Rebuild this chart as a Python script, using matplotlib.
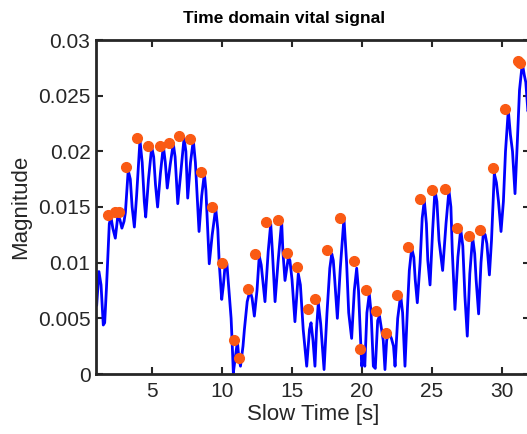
import matplotlib
matplotlib.use("Agg")
import matplotlib.pyplot as plt

# Signal trace (slow time in s, magnitude)
t_sig = [1.05, 1.21, 1.36, 1.52, 1.62, 1.75, 1.95, 2.07, 2.2, 2.38, 2.55, 2.7, 2.85, 3.0, 3.1,
         3.3, 3.45, 3.58, 3.74, 3.9, 4.14, 4.3, 4.45, 4.55, 4.75, 4.98, 5.12, 5.25, 5.4, 5.6,
         5.81, 5.95, 6.09, 6.3, 6.52, 6.65, 6.84, 7.05, 7.29, 7.42, 7.55, 7.75, 7.95, 8.1, 8.36,
         8.55, 8.74, 8.85, 9.09, 9.3, 9.55, 9.7, 9.8, 9.98, 10.1, 10.21, 10.35, 10.5, 10.65, 10.72,
         10.81, 10.95, 11.1, 11.2, 11.32, 11.5, 11.6, 11.8, 12.0, 12.15, 12.31, 12.5, 12.66, 12.8,
         12.95, 13.07, 13.3, 13.48, 13.6, 13.79, 14.0, 14.26, 14.35, 14.5, 14.74, 14.85, 15.0,
         15.21, 15.45, 15.6, 15.8, 16.05, 16.25, 16.36, 16.5, 16.64, 16.75, 16.88, 17.05, 17.2,
         17.29, 17.5, 17.7, 17.84, 17.95, 18.05, 18.24, 18.45, 18.71, 18.9, 19.05, 19.26, 19.45,
         19.62, 19.75, 19.87, 19.98, 20.1, 20.2, 20.35, 20.52, 20.65, 20.81, 20.95, 21.12, 21.25,
         21.4, 21.52, 21.64, 21.76, 21.88, 22.0, 22.1, 22.25, 22.36, 22.55, 22.76, 22.9, 23.07,
         23.25, 23.38, 23.55, 23.7, 23.8, 23.95, 24.15, 24.3, 24.45, 24.6, 24.7, 24.86, 25.05,
         25.21, 25.35, 25.5, 25.76, 26.0, 26.21, 26.35, 26.45, 26.64, 26.85, 27.05, 27.2, 27.35,
         27.52, 27.7, 27.9, 28.05, 28.15, 28.33, 28.5, 28.67, 28.8, 28.92, 29.1, 29.25, 29.45,
         29.6, 29.75, 29.93, 30.1, 30.25, 30.45, 30.6, 30.75, 30.93, 31.1, 31.25, 31.45, 31.6,
         31.7, 31.85, 32.0]
y_sig = [0.0062, 0.0092, 0.0080, 0.0044, 0.0046, 0.0078, 0.0135, 0.0141, 0.0131, 0.0122, 0.0141,
         0.0139, 0.0131, 0.0137, 0.0145, 0.0183, 0.0175, 0.0150, 0.0132, 0.0160, 0.0210, 0.0190,
         0.0155, 0.0141, 0.0175, 0.0204, 0.0195, 0.0170, 0.0150, 0.0180, 0.0205, 0.0190, 0.0167,
         0.0188, 0.0207, 0.0195, 0.0153, 0.0180, 0.0212, 0.0200, 0.0158, 0.0190, 0.0210, 0.0190,
         0.0128, 0.0160, 0.0180, 0.0165, 0.0099, 0.0125, 0.0149, 0.0130, 0.0100, 0.0067, 0.0080,
         0.0096, 0.0099, 0.0075, 0.0050, 0.0030, 0.0001, 0.0015, 0.0029, 0.0015, 0.0007, 0.0025,
         0.0040, 0.0065, 0.0075, 0.0068, 0.0052, 0.0075, 0.0106, 0.0098, 0.0080, 0.0065, 0.0110,
         0.0135, 0.0110, 0.0065, 0.0100, 0.0137, 0.0110, 0.0084, 0.0105, 0.0102, 0.0085, 0.0047,
         0.0090, 0.0080, 0.0040, 0.0007, 0.0040, 0.0046, 0.0030, 0.0007, 0.0040, 0.0064, 0.0045,
         0.0020, 0.0004, 0.0055, 0.0095, 0.0108, 0.0102, 0.0085, 0.0050, 0.0095, 0.0140, 0.0100,
         0.0055, 0.0032, 0.0075, 0.0095, 0.0075, 0.0040, 0.0007, 0.0017, 0.0007, 0.0055, 0.0072,
         0.0055, 0.0007, 0.0005, 0.0048, 0.0052, 0.0040, 0.0030, 0.0004, 0.0030, 0.0037, 0.0035,
         0.0032, 0.0025, 0.0007, 0.0050, 0.0071, 0.0055, 0.0007, 0.0060, 0.0093, 0.0113, 0.0105,
         0.0085, 0.0064, 0.0100, 0.0140, 0.0156, 0.0135, 0.0102, 0.0080, 0.0130, 0.0165, 0.0155,
         0.0120, 0.0093, 0.0135, 0.0165, 0.0150, 0.0110, 0.0058, 0.0105, 0.0130, 0.0115, 0.0070,
         0.0034, 0.0090, 0.0123, 0.0108, 0.0085, 0.0054, 0.0100, 0.0127, 0.0125, 0.0117, 0.0089,
         0.0120, 0.0180, 0.0172, 0.0155, 0.0128, 0.0155, 0.0200, 0.0237, 0.0215, 0.0200, 0.0162,
         0.0210, 0.0255, 0.0279, 0.0268, 0.0262, 0.0236, 0.0240]

# Detected peaks
t_peak = [1.83, 2.36, 2.64, 3.14, 3.95, 4.74, 5.57, 6.19, 6.95, 7.69, 8.48, 9.26, 9.98, 10.88,
          11.24, 11.83, 12.38, 13.14, 13.98, 14.62, 15.33, 16.12, 16.67, 17.52, 18.45, 19.43,
          19.86, 20.26, 21.0, 21.71, 22.5, 23.29, 24.16, 24.98, 25.93, 26.79, 27.64, 28.43,
          29.33, 30.21, 31.12, 31.31]
y_peak = [0.01425, 0.01452, 0.01452, 0.01862, 0.02117, 0.02048, 0.02048, 0.02072, 0.02138,
          0.02111, 0.01817, 0.01503, 0.00997, 0.00305, 0.00141, 0.00766, 0.01079, 0.01363,
          0.01380, 0.01084, 0.00964, 0.00587, 0.00677, 0.01111, 0.01401, 0.01015, 0.00222,
          0.00757, 0.00566, 0.00371, 0.00710, 0.01138, 0.01569, 0.01656, 0.01665, 0.01314,
          0.01240, 0.01290, 0.01848, 0.02378, 0.02811, 0.02791]

x_ticks = [5, 10, 15, 20, 25, 30]
y_ticks = [0, 0.005, 0.01, 0.015, 0.02, 0.025, 0.03]
y_ticklabels = ["0", "0.005", "0.01", "0.015", "0.02", "0.025", "0.03"]

plt.rcParams['font.family'] = ['Liberation Sans', 'DejaVu Sans']

fig = plt.figure(figsize=(5.27, 4.34), dpi=100)
ax = fig.add_axes([96 / 527, 60 / 434, 434 / 527, 334 / 434])

ax.plot(t_sig, y_sig, color='#0000FF', linewidth=2.0, zorder=2)
ax.plot(t_peak, y_peak, linestyle='none', marker='o', markersize=7,
        markerfacecolor='#FA5A14', markeredgecolor='#FA5A14', zorder=3)

ax.set_xlim(1, 32)
ax.set_ylim(0, 0.03)
ax.set_xticks(x_ticks)
ax.set_yticks(y_ticks)
ax.set_yticklabels(y_ticklabels)

dark = '#262626'
for s in ax.spines.values():
    s.set_linewidth(2.0)
    s.set_color(dark)
ax.tick_params(direction='in', length=5, width=1.5, colors=dark,
               top=True, right=True, labelsize=15)
ax.tick_params(axis='x', pad=6)
ax.tick_params(axis='y', pad=4)
for lab in ax.get_xticklabels() + ax.get_yticklabels():
    lab.set_color(dark)

ax.set_xlabel('Slow Time [s]', fontsize=16, color=dark, labelpad=2)
ax.set_ylabel('Magnitude', fontsize=16, color=dark, labelpad=5)
fig.text(284 / 527, 1 - 18 / 434, 'Time domain vital signal', fontsize=12.5,
         fontweight='bold', color='black', ha='center', va='center')

fig.savefig('out.png', dpi=100)
